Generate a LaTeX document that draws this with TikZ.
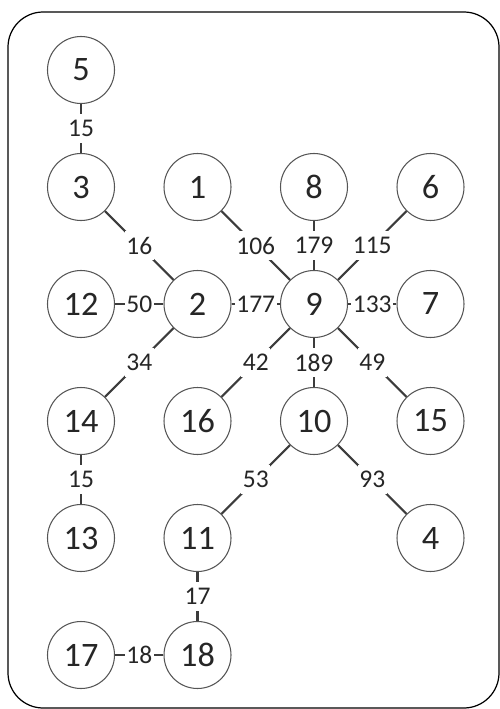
\documentclass[tikz,border=0pt]{standalone}
\usepackage{fontspec}
\setmainfont{Carlito}
\usepackage{xcolor}
\usepackage{tikz}
\usetikzlibrary{positioning}

\definecolor{edgegray}{HTML}{3C3C3C}
\definecolor{ringgray}{HTML}{555555}
\definecolor{textgray}{HTML}{262626}

\begin{document}
\begin{tikzpicture}[
    vertex/.style={circle, draw=ringgray, line width=0.6pt, fill=white,
                   minimum size=1.34cm, inner sep=0pt,
                   font=\fontsize{19.5}{22}\selectfont, text=textgray},
    link/.style={draw=edgegray, line width=1.2pt},
    weight/.style={fill=white, inner xsep=1pt, inner ysep=3.5pt,
                   font=\fontsize{14.5}{17}\selectfont, text=textgray},
    on grid, node distance=2.34cm and 2.33cm,
]
% frame
\useasboundingbox (0,0) rectangle (10,-14.18);
\draw[line width=0.7pt, rounded corners=20pt] (0.16,-0.24) rectangle (9.98,-14.16);

% middle row
\node[vertex] (n9) at (6.28,-6.08) {9};
\node[vertex, left=of n9] (n2) {2};
\node[vertex, left=of n2] (n12) {12};
\node[vertex, right=of n9] (n7) {7};

% upper rows
\node[vertex, above=of n12] (n3) {3};
\node[vertex, above=of n3] (n5) {5};
\node[vertex, above=of n2] (n1) {1};
\node[vertex, above=of n9] (n8) {8};
\node[vertex, above=of n7] (n6) {6};

% lower rows
\node[vertex, below=of n12] (n14) {14};
\node[vertex, below=of n2] (n16) {16};
\node[vertex, below=of n9] (n10) {10};
\node[vertex, below=of n7] (n15) {15};
\node[vertex, below=of n14] (n13) {13};
\node[vertex, below=of n16] (n11) {11};
\node[vertex, below=of n15] (n4) {4};
\node[vertex, below=of n13] (n17) {17};
\node[vertex, below=of n11] (n18) {18};

% weighted edges
\draw[link] (n5) -- node[weight] {15} (n3);
\draw[link] (n3) -- node[weight] {16} (n2);
\draw[link] (n1) -- node[weight] {106} (n9);
\draw[link] (n8) -- node[weight] {179} (n9);
\draw[link] (n6) -- node[weight] {115} (n9);
\draw[link] (n12) -- node[weight] {50} (n2);
\draw[link] (n2) -- node[weight] {177} (n9);
\draw[link] (n9) -- node[weight] {133} (n7);
\draw[link] (n2) -- node[weight] {34} (n14);
\draw[link] (n9) -- node[weight] {42} (n16);
\draw[link] (n9) -- node[weight] {189} (n10);
\draw[link] (n9) -- node[weight] {49} (n15);
\draw[link] (n14) -- node[weight] {15} (n13);
\draw[link] (n10) -- node[weight] {53} (n11);
\draw[link] (n10) -- node[weight] {93} (n4);
\draw[link] (n11) -- node[weight] {17} (n18);
\draw[link] (n17) -- node[weight] {18} (n18);

\end{tikzpicture}
\end{document}
